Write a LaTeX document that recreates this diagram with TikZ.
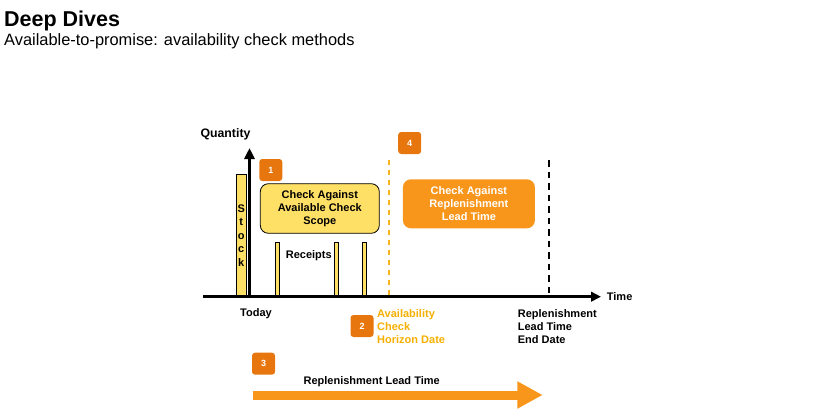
\documentclass[tikz,border=0pt]{standalone}
\usepackage{fontspec}
\setmainfont{Liberation Sans}
\usetikzlibrary{arrows.meta}
\definecolor{boxyellow}{HTML}{FFE066}
\definecolor{badgeorange}{HTML}{E8760F}
\definecolor{boxorange}{HTML}{F8961C}
\definecolor{goldline}{HTML}{F5B41E}
\definecolor{goldtext}{HTML}{F5AF00}
\begin{document}
\begin{tikzpicture}[x=1pt,y=-1pt,
  lbl/.style={font=\bfseries\fontsize{11}{13}\selectfont, inner sep=0pt, align=left},
  badge/.style={fill=badgeorange, rounded corners=3pt, minimum width=23pt, minimum height=22pt, inner sep=0pt, text=white, font=\bfseries\fontsize{9}{10}\selectfont},
  bar/.style={fill=boxyellow, draw=black, line width=0.6pt},
  scopebox/.style={fill=boxyellow, draw=black, line width=0.8pt, rounded corners=8pt, minimum width=119pt, minimum height=49.6pt, inner sep=0pt, align=center, font=\bfseries\fontsize{11}{13}\selectfont},
  replbox/.style={fill=boxorange, rounded corners=8pt, minimum width=132pt, minimum height=49pt, inner sep=0pt, align=center, text=white, font=\bfseries\fontsize{11}{13}\selectfont},
  axis/.style={black, line width=3pt},
]
\useasboundingbox (0,0) rectangle (814,412);
% title
\node[anchor=base west, inner sep=0pt, font=\bfseries\fontsize{21.5}{26}\selectfont] (title) at (4,26.7) {Deep Dives};
\node[anchor=base west, inner sep=0pt, font=\fontsize{16.4}{20}\selectfont] (subtitle) at (4,46) {Available-to-promise: availability check methods};

% dashed lines
\coordinate (gtop) at (388.8,160);
\coordinate (gbot) at (388.8,297);
\draw[goldline, line width=2pt, dash pattern=on 5pt off 5pt] (gtop) -- (gbot);
\coordinate (btop) at (549.3,160);
\coordinate (bbot) at (549.3,297);
\draw[black, line width=2pt, dash pattern=on 6.5pt off 5pt] (btop) -- (bbot);

% stock bar
\node[bar, minimum width=10.7pt, minimum height=123pt, inner sep=0pt, align=center,
      font=\bfseries\fontsize{11}{13.5}\selectfont] (stock) at (241.3,235.6) {S\\t\\o\\c\\k};

% receipt bars
\draw[bar] (275,242.7) rectangle (279.3,297);
\draw[bar] (334,242.7) rectangle (338.3,297);
\draw[bar] (362,242.7) rectangle (366.3,297);
\node[lbl] (receipts) at (308.8,256) {Receipts};

% axes
\coordinate (xs) at (203,296.7);
\coordinate (xe) at (601,296.7);
\coordinate (ys) at (249.5,298);
\coordinate (ye) at (249.5,148);
\draw[axis, -{Triangle[length=10pt,width=9.5pt]}] (xs) -- (xe);
\draw[axis, line width=3.5pt, -{Triangle[length=11pt,width=10pt]}] (ys) -- (ye);
\node[inner sep=0pt, font=\bfseries\fontsize{12.3}{14}\selectfont] (quantity) at (225.5,134) {Quantity};
\node[lbl, anchor=west] (time) at (606.7,297) {Time};

% boxes
\node[scopebox] (scope) at (319.8,208.5) {Check Against\\Available Check\\Scope};
\node[replbox] (repl) at (468.9,203.8) {Check Against\\Replenishment\\Lead Time};

% badges
\node[badge] (b1) at (270.8,170) {1};
\node[badge] (b4) at (409.7,143) {4};
\node[badge] (b2) at (362,326) {2};
\node[badge] (b3) at (263.5,363.7) {3};

% lower labels
\node[lbl] (today) at (256,313.3) {Today};
\node[lbl, anchor=west, text=goldtext] (horizon) at (377,326.7) {Availability\\Check\\Horizon Date};
\node[lbl, anchor=west] (enddate) at (517.7,326.4) {Replenishment\\Lead Time\\End Date};

% replenishment lead time arrow
\node[lbl] (rlt) at (371.7,381.3) {Replenishment Lead Time};
\coordinate (ra) at (253.3,395);
\coordinate (rb) at (542.7,395);
\draw[boxorange, line width=9pt, -{Triangle[length=25.4pt,width=25.6pt]}] (ra) -- (rb);
\end{tikzpicture}
\end{document}
